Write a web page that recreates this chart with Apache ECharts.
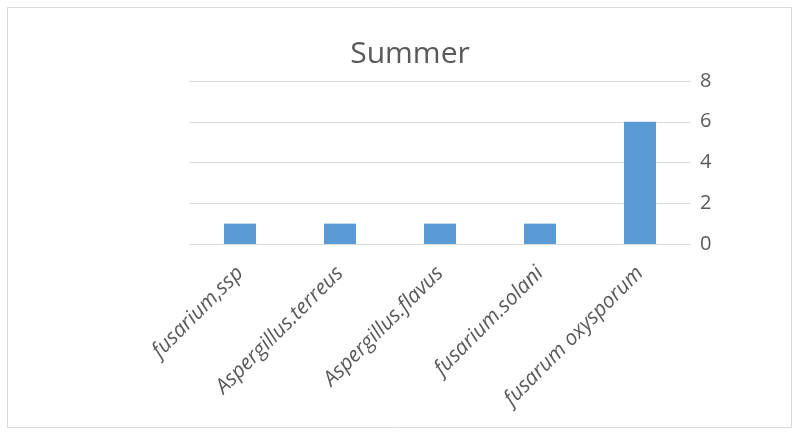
<!DOCTYPE html>
<html>
<head>
<meta charset="utf-8">
<script src="https://cdn.jsdelivr.net/npm/echarts@6/dist/echarts.min.js"></script>
<style>html,body{margin:0;padding:0;background:#fff;}#c{width:796px;height:432px;}</style>
</head>
<body>
<div id="c"></div>
<script>
const titleText = "Summer";
const categories = ["fusarium,ssp", "Aspergillus.terreus", "Aspergillus.flavus", "fusarium.solani", "fusarum oxysporum"];
const values = [1, 1, 1, 1, 6];
const yTicks = [0, 2, 4, 6, 8];

const chart = echarts.init(document.getElementById('c'), null, {renderer: 'canvas'});
chart.setOption({
  animation: false,
  backgroundColor: '#ffffff',
  graphic: [{
    type: 'rect',
    shape: {x: 7.5, y: 7.5, width: 784, height: 420},
    style: {fill: 'none', stroke: '#d9d9d9', lineWidth: 1}
  }],
  title: {
    text: titleText,
    left: 405,
    top: 34,
    textAlign: 'center',
    textStyle: {fontFamily: 'Open Sans', fontSize: 30, fontWeight: 'normal', color: '#595959'}
  },
  grid: {left: 190, right: 106, top: 81, bottom: 188, containLabel: false},
  xAxis: {
    type: 'category',
    data: categories,
    axisLine: {show: true, lineStyle: {color: '#d9d9d9'}},
    axisTick: {show: false},
    axisLabel: {
      rotate: 45,
      interval: 0,
      margin: 26,
      fontFamily: 'Open Sans',
      fontStyle: 'italic',
      fontSize: 21,
      color: '#595959'
    }
  },
  yAxis: {
    type: 'value',
    position: 'right',
    min: yTicks[0],
    max: yTicks[yTicks.length - 1],
    interval: 2,
    axisLine: {show: false},
    axisTick: {show: false},
    splitLine: {lineStyle: {color: '#d9d9d9'}},
    axisLabel: {margin: 10, fontFamily: 'Open Sans', fontSize: 20, color: '#595959'}
  },
  series: [{
    type: 'bar',
    data: values,
    barWidth: 32,
    itemStyle: {color: '#5b9bd5'}
  }]
});
</script>
</body>
</html>
